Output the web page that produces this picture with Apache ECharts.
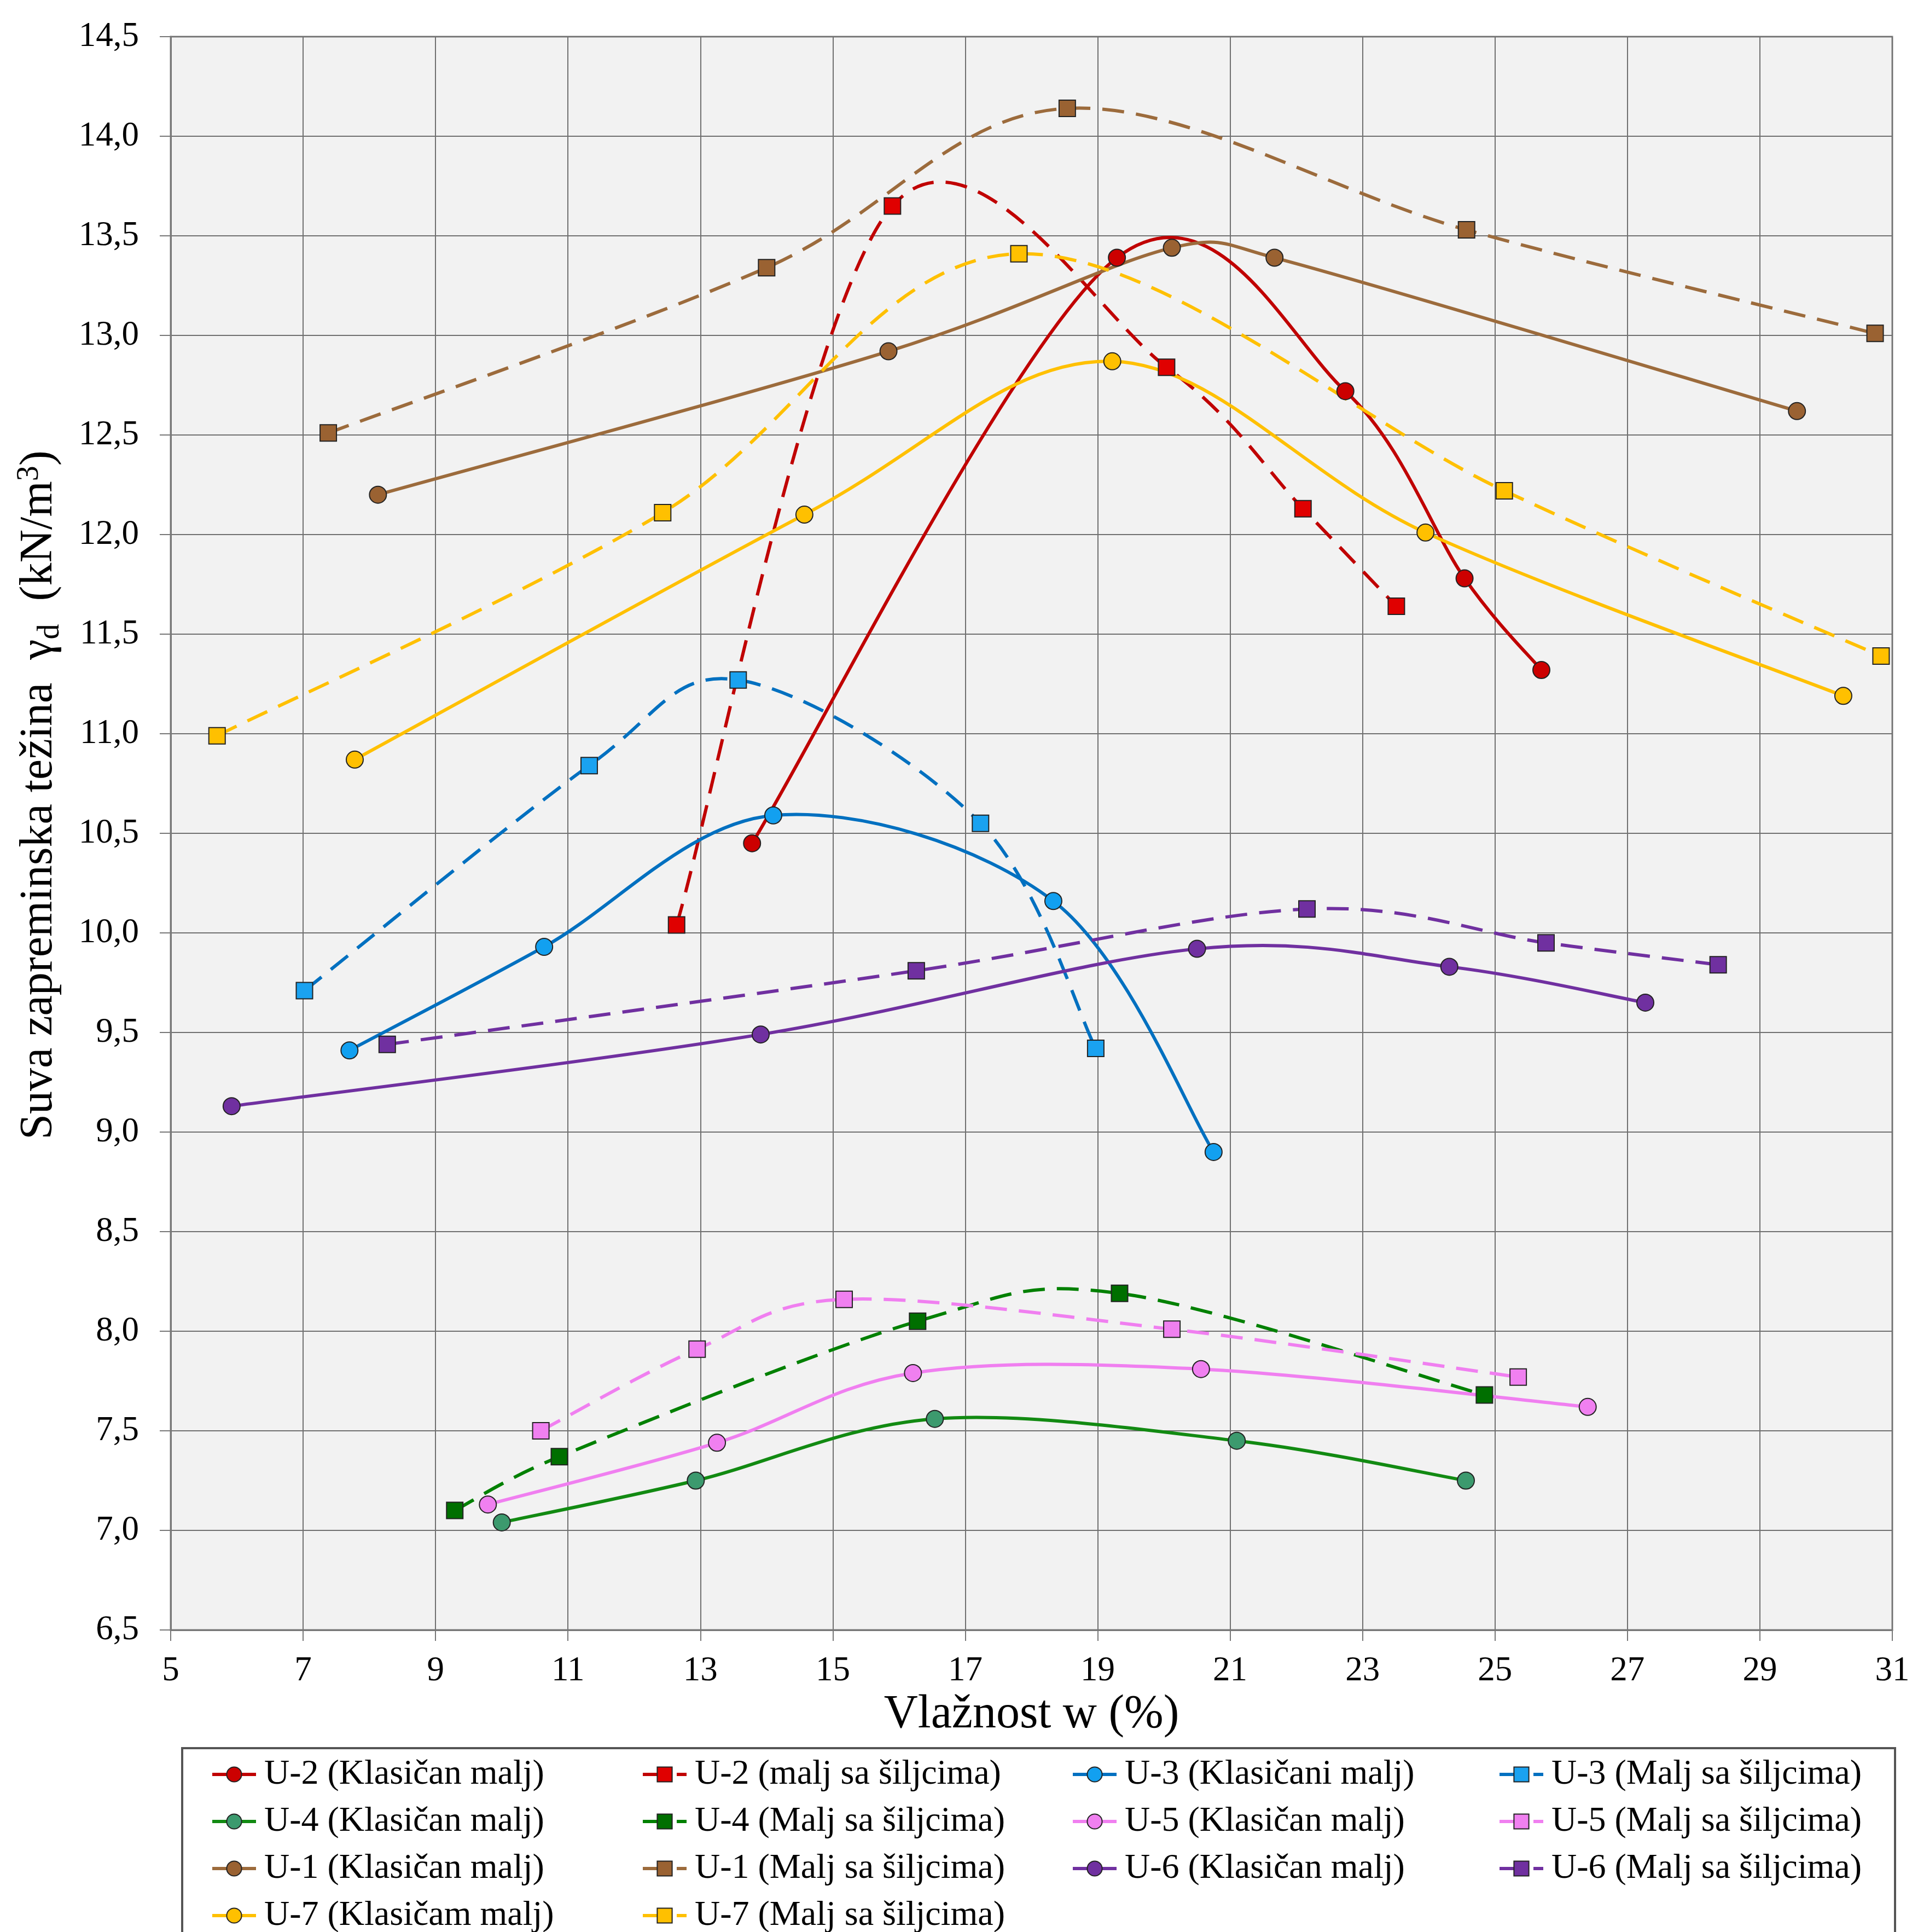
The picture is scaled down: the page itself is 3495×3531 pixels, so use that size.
<!DOCTYPE html>
<html><head><meta charset="utf-8">
<script src="https://cdn.jsdelivr.net/npm/echarts@6/dist/echarts.min.js"></script>
<style>html,body{margin:0;padding:0;background:#fff}#c{width:3495px;height:3531px}</style>
</head><body><div id="c"></div>
<script>
// ---- data (x = moisture w %, y = dry unit weight kN/m3) ----
const xTicks = [5,7,9,11,13,15,17,19,21,23,25,27,29,31];
const u2K = [[13.78,10.45],[19.29,13.39],[22.74,12.72],[24.54,11.78],[25.70,11.32]];
const u2S = [[12.64,10.04],[15.90,13.65],[20.04,12.84],[22.10,12.13],[23.51,11.64]];
const u3K = [[7.70,9.41],[10.64,9.93],[14.10,10.59],[18.33,10.16],[20.75,8.90]];
const u3S = [[7.02,9.71],[11.32,10.84],[13.57,11.27],[17.23,10.55],[18.97,9.42]];
const u4K = [[10.00,7.04],[12.93,7.25],[16.54,7.56],[21.10,7.45],[24.56,7.25]];
const u4S = [[9.29,7.10],[10.87,7.37],[16.28,8.05],[19.33,8.19],[24.84,7.68]];
const u5K = [[9.79,7.13],[13.25,7.44],[16.21,7.79],[20.56,7.81],[26.40,7.62]];
const u5S = [[10.59,7.50],[12.95,7.91],[15.17,8.16],[20.12,8.01],[25.35,7.77]];
const u1K = [[8.13,12.20],[15.84,12.92],[20.12,13.44],[21.67,13.39],[29.56,12.62]];
const u1S = [[7.38,12.51],[14.00,13.34],[18.54,14.14],[24.57,13.53],[30.74,13.01]];
const u6K = [[5.92,9.13],[13.91,9.49],[20.50,9.92],[24.31,9.83],[27.27,9.65]];
const u6S = [[8.27,9.44],[16.26,9.81],[22.16,10.12],[25.77,9.95],[28.37,9.84]];
const u7K = [[7.78,10.87],[14.57,12.10],[19.22,12.87],[23.95,12.01],[30.26,11.19]];
const u7S = [[5.70,10.99],[12.43,12.11],[17.81,13.41],[25.14,12.22],[30.83,11.39]];

const names = [
  'U-2 (Klasičan malj)','U-2 (malj sa šiljcima)','U-3 (Klasičani malj)','U-3 (Malj sa šiljcima)',
  'U-4 (Klasičan malj)','U-4 (Malj sa šiljcima)','U-5 (Klasičan malj)','U-5 (Malj sa šiljcima)',
  'U-1 (Klasičan malj)','U-1 (Malj sa šiljcima)','U-6 (Klasičan malj)','U-6 (Malj sa šiljcima)',
  'U-7 (Klasičam malj)','U-7 (Malj sa šiljcima)'
];

const FONT = 'Liberation Serif';
const DASH = [40, 22];

// smoothed curve (Excel-like Catmull-Rom bezier) through the axis-mapped points
function handle(a, b, segLen) {
  let hx = (b[0] - a[0]) / 6, hy = (b[1] - a[1]) / 6;
  const len = Math.hypot(hx, hy), cap = 0.5 * segLen;
  if (len > cap && len > 0) { hx *= cap / len; hy *= cap / len; }
  return [hx, hy];
}
function curvePath(pts) {
  let d = 'M' + pts[0][0] + ' ' + pts[0][1];
  for (let i = 0; i < pts.length - 1; i++) {
    const p0 = pts[i - 1] || pts[i], p1 = pts[i], p2 = pts[i + 1], p3 = pts[i + 2] || pts[i + 1];
    const seg = Math.hypot(p2[0] - p1[0], p2[1] - p1[1]);
    const h1 = handle(p0, p2, seg), h2 = handle(p1, p3, seg);
    d += ' C' + (p1[0] + h1[0]) + ' ' + (p1[1] + h1[1]) + ' ' +
         (p2[0] - h2[0]) + ' ' + (p2[1] - h2[1]) + ' ' + p2[0] + ' ' + p2[1];
  }
  return d;
}

const series = [];
function add(name, data, line, fill, dashed) {
  series.push({
    name: name + ' ~', type: 'custom', data, silent: true, z: 2,
    encode: { x: 0, y: 1 },
    renderItem: (params, api) => {
      if (params.dataIndex !== 0) return null;
      const pts = data.map(p => api.coord(p));
      return {
        type: 'path', silent: true,
        shape: { pathData: curvePath(pts) },
        style: { fill: 'none', stroke: line, lineWidth: 6, lineDash: dashed ? DASH : null, lineCap: 'butt' }
      };
    }
  });
  series.push({
    name, type: 'line', data, z: 3,
    symbol: dashed ? 'rect' : 'circle', symbolSize: dashed ? 30 : 31,
    lineStyle: { color: line, width: 0, type: dashed ? DASH : 'solid' },
    itemStyle: { color: fill, borderColor: '#222', borderWidth: 2 },
    emphasis: { disabled: true }
  });
}

add(names[0], u2K, '#c00000', '#cc0000', false);
add(names[1], u2S, '#c00000', '#e00000', true);
add(names[2], u3K, '#0070c0', '#12a0f0', false);
add(names[3], u3S, '#0070c0', '#1aa2f0', true);
add(names[4], u4K, '#128a12', '#3c9a6e', false);
add(names[5], u4S, '#008000', '#006f00', true);
add(names[6], u5K, '#f07ff0', '#f080f0', false);
add(names[7], u5S, '#f07ff0', '#f080f0', true);
add(names[8], u1K, '#9c6b3c', '#9a6232', false);
add(names[9], u1S, '#9c6b3c', '#9a6232', true);
add(names[10], u6K, '#7030a0', '#7030a0', false);
add(names[11], u6S, '#7030a0', '#7030a0', true);
add(names[12], u7K, '#ffc000', '#ffc000', false);
add(names[13], u7S, '#ffc000', '#ffc000', true);

function legendCol(left, list) {
  return {
    orient: 'vertical', left, top: 3211, height: 420, padding: 0,
    itemWidth: 80, itemHeight: 34, itemGap: 22,
    selectedMode: false,
    data: list,
    lineStyle: { width: 6, opacity: 1 },
    itemStyle: { opacity: 1 },
    textStyle: { fontFamily: FONT, fontSize: 64, lineHeight: 64, color: '#000', padding: [0,0,0,10] }
  };
}

const chart = echarts.init(document.getElementById('c'));
chart.setOption({
  backgroundColor: '#fff',
  animation: false,
  grid: { left: 312, right: 36, top: 67, bottom: 552, show: true,
          backgroundColor: '#f2f2f2', borderColor: '#888', borderWidth: 3 },
  xAxis: {
    type: 'value', min: 5, max: 31, interval: 1,
    name: 'Vlažnost w (%)', nameLocation: 'middle', nameGap: 112,
    nameTextStyle: { fontFamily: FONT, fontSize: 86, color: '#000' },
    axisLine: { show: true, lineStyle: { color: '#777', width: 3 } },
    axisTick: { show: true, length: 20, customValues: xTicks, lineStyle: { color: '#777', width: 2 } },
    axisLabel: { customValues: xTicks, margin: 44, fontFamily: FONT, fontSize: 63, color: '#000' },
    splitLine: { show: true, lineStyle: { color: '#707070', width: 2 } }
  },
  yAxis: {
    type: 'value', min: 6.5, max: 14.5, interval: 0.5,
    name: '{a|Suva zapreminska težina  γ}{s|d}{a|  (kN/m}{p|3}{a|)}',
    nameLocation: 'middle', nameRotate: 90, nameGap: 190,
    nameTextStyle: {
      fontFamily: FONT, fontSize: 84, color: '#000', padding: [0,0,0,140],
      rich: {
        a: { fontFamily: FONT, fontSize: 84, color: '#000', lineHeight: 100 },
        s: { fontFamily: FONT, fontSize: 56, color: '#000', lineHeight: 100, padding: [40,0,0,0] },
        p: { fontFamily: FONT, fontSize: 56, color: '#000', lineHeight: 100, padding: [0,0,36,0] }
      }
    },
    axisLine: { show: true, lineStyle: { color: '#777', width: 3 } },
    axisTick: { show: true, length: 20, lineStyle: { color: '#777', width: 2 } },
    axisLabel: { margin: 58, fontFamily: FONT, fontSize: 63, color: '#000',
                 formatter: v => v.toFixed(1).replace('.', ',') },
    splitLine: { show: true, lineStyle: { color: '#707070', width: 2 } }
  },
  legend: [
    legendCol(385, [names[0], names[4], names[8], names[12]]),
    legendCol(1172, [names[1], names[5], names[9], names[13]]),
    legendCol(1958, [names[2], names[6], names[10]]),
    legendCol(2738, [names[3], names[7], names[11]])
  ],
  graphic: [{
    type: 'rect', z: 0, silent: true,
    shape: { x: 333, y: 3195, width: 3131, height: 420 },
    style: { fill: '#fff', stroke: '#555', lineWidth: 4 }
  }],
  series
});
</script>
</body></html>
